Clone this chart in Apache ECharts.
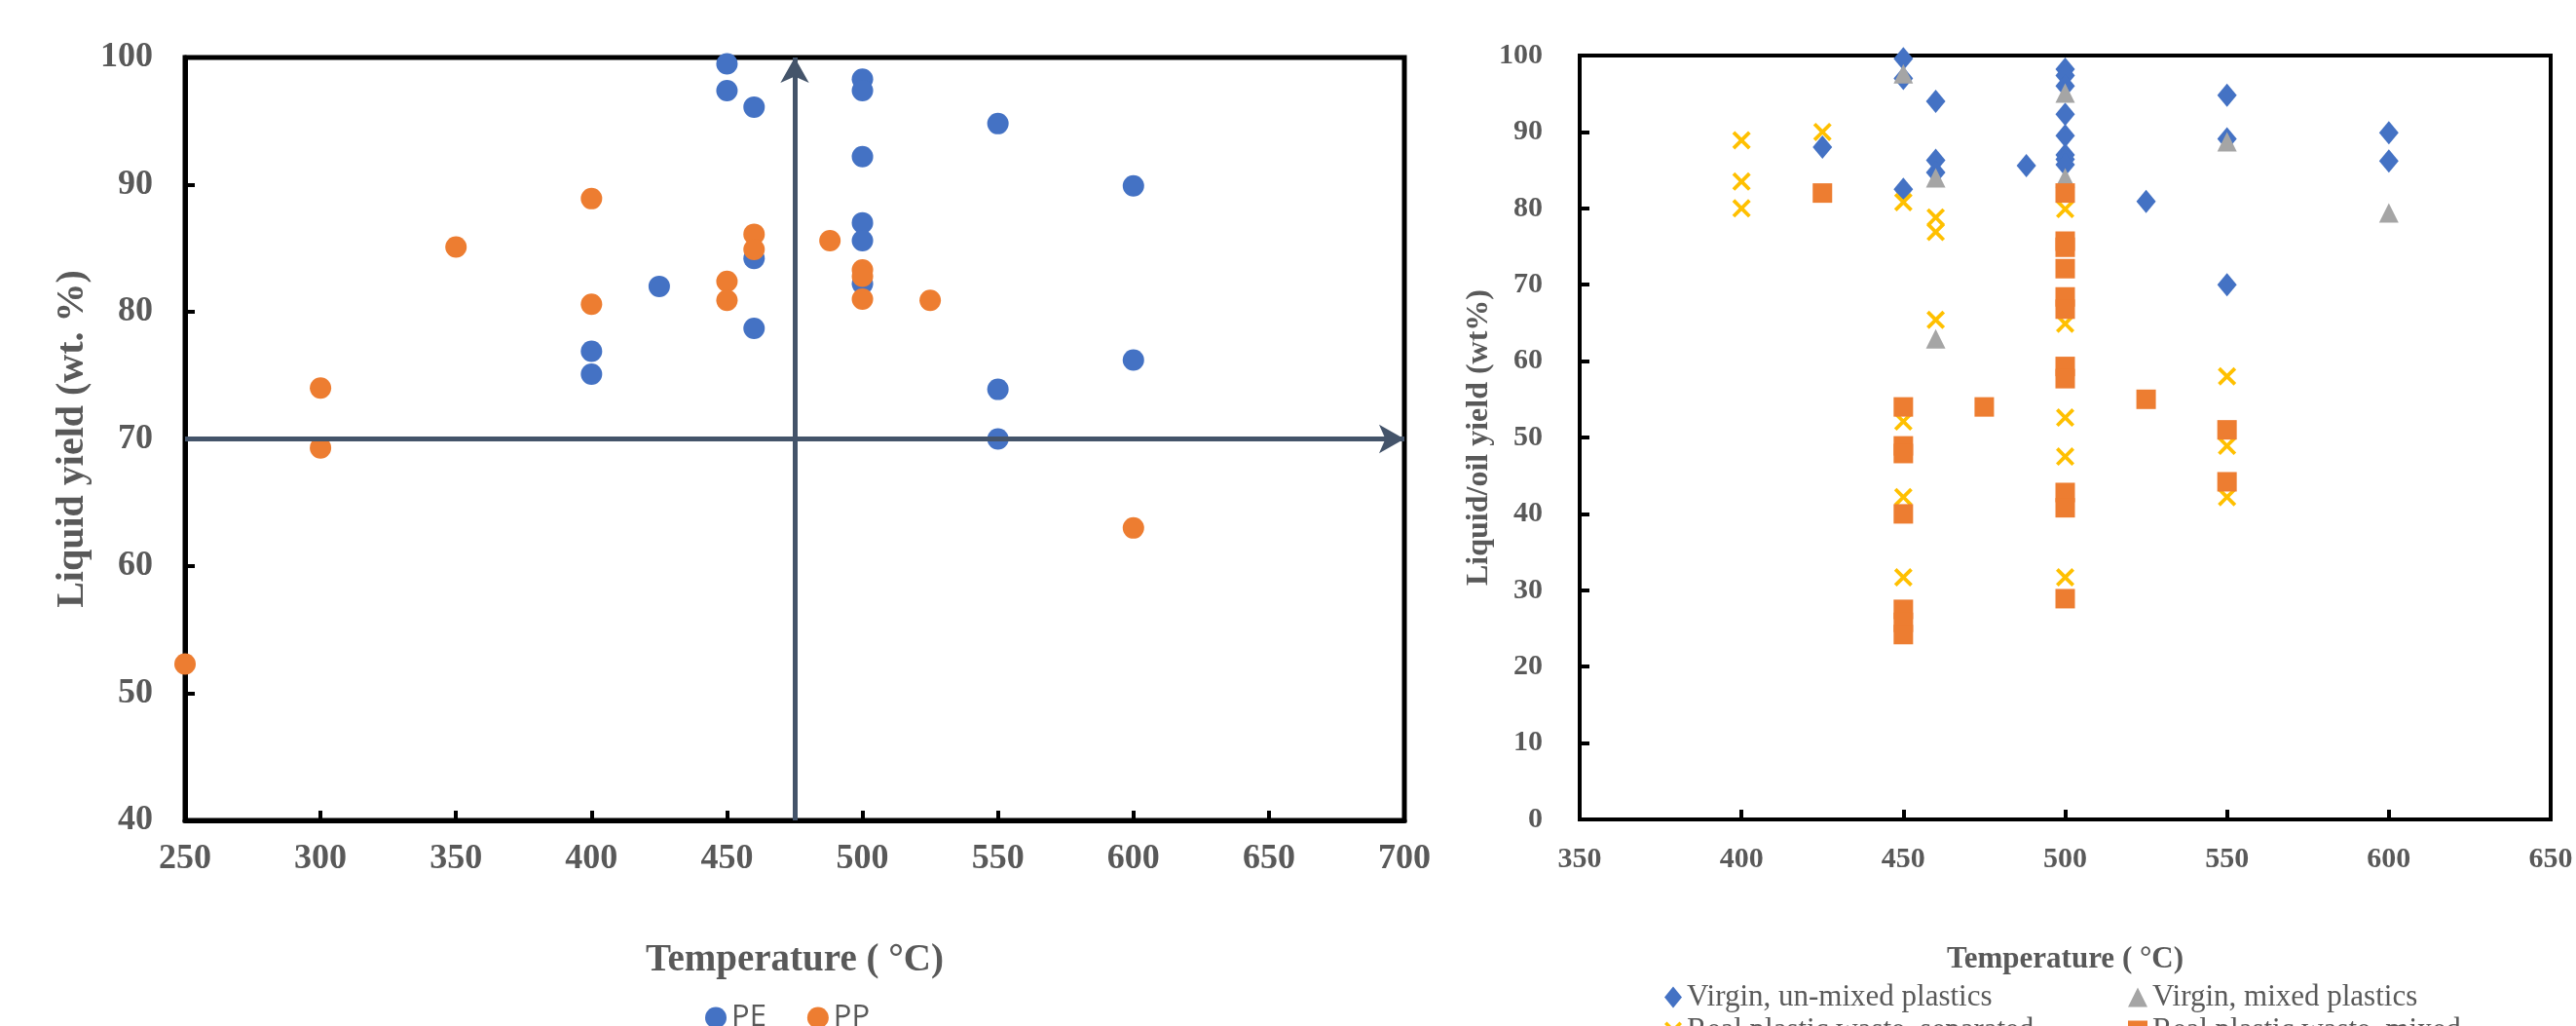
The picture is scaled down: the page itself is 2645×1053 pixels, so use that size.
<!DOCTYPE html>
<html><head><meta charset="utf-8">
<script src="https://cdn.jsdelivr.net/npm/echarts@6/dist/echarts.min.js"></script>
<style>html,body{margin:0;padding:0;background:#fff}#c{width:2645px;height:1053px}</style>
</head><body><div id="c"></div><script>
// ---------- Left chart: PE / PP ----------
const peTemp  = [400, 400, 425, 450, 450, 460, 460, 460, 500, 500, 500, 500, 500, 500, 550, 550, 550, 600, 600];
const peYield = [76.9, 75.1, 82.0, 99.5, 97.4, 96.1, 84.2, 78.7, 98.3, 97.4, 92.2, 87.0, 85.6, 82.2, 94.8, 73.9, 70.0, 89.9, 76.2];
const ppTemp  = [250, 300, 300, 350, 400, 400, 450, 450, 460, 460, 488, 500, 500, 500, 525, 600];
const ppYield = [52.3, 74.0, 69.3, 85.1, 88.9, 80.6, 82.4, 80.9, 86.1, 84.9, 85.6, 83.3, 82.8, 81.0, 80.9, 63.0];
const refTemp = 475;   // vertical reference arrow
const refYield = 70;   // horizontal reference arrow

// ---------- Right chart: four feedstock groups ----------
const vuTemp  = [425, 450, 450, 450, 460, 460, 460, 488, 500, 500, 500, 500, 500, 500, 500, 500, 525, 550, 550, 550, 600, 600];
const vuYield = [88.0, 99.6, 97.0, 82.5, 94.0, 86.3, 84.7, 85.6, 98.2, 97.4, 96.0, 92.3, 89.5, 87.0, 86.4, 85.7, 80.9, 94.8, 89.1, 70.0, 89.9, 86.2];
const vmTemp  = [450, 460, 460, 500, 500, 550, 600];
const vmYield = [97.6, 84.0, 62.9, 95.1, 84.0, 88.7, 79.4];
const rsTemp  = [400, 400, 400, 425, 450, 450, 450, 450, 460, 460, 460, 500, 500, 500, 500, 500, 550, 550, 550];
const rsYield = [88.9, 83.5, 80.0, 90.0, 80.8, 52.1, 42.2, 31.7, 78.8, 76.9, 65.4, 79.9, 64.9, 52.6, 47.5, 31.7, 58.0, 48.9, 42.2];
const rmTemp  = [425, 450, 450, 450, 450, 450, 450, 450, 475, 500, 500, 500, 500, 500, 500, 500, 500, 500, 500, 500, 525, 550, 550];
const rmYield = [82.0, 54.0, 48.9, 47.9, 40.0, 27.5, 25.8, 24.2, 54.0, 82.0, 75.7, 74.9, 72.1, 68.4, 66.8, 59.3, 57.7, 42.8, 40.8, 28.9, 55.0, 51.0, 44.2];

const zip = (xs, ys) => xs.map((x, i) => [x, ys[i]]);

const GRAY = '#595959';
const SERIF = '"Liberation Serif", "Times New Roman", serif';
const XMARK = 'path://M0,1.4 L1.4,0 L5,3.6 L8.6,0 L10,1.4 L6.4,5 L10,8.6 L8.6,10 L5,6.4 L1.4,10 L0,8.6 L3.6,5 Z';

function xAxisCfg(grid, min, max, fs, margin, nameGap, nameFs, lw) {
  return {
    type: 'value', gridIndex: grid, min: min, max: max, interval: 50,
    name: 'Temperature ( °C)', nameLocation: 'middle', nameGap: nameGap,
    nameTextStyle: { fontFamily: SERIF, fontWeight: 'bold', fontSize: nameFs, color: GRAY },
    axisLine: { show: true, onZero: false, lineStyle: { color: '#000', width: lw } },
    axisTick: { show: true, inside: true, length: 10, lineStyle: { color: '#000', width: 4 } },
    axisLabel: { margin: margin, fontFamily: SERIF, fontWeight: 'bold', fontSize: fs, color: GRAY },
    splitLine: { show: false }
  };
}
function yAxisCfg(grid, min, max, name, fs, margin, nameGap, nameFs, lw) {
  return {
    type: 'value', gridIndex: grid, min: min, max: max, interval: 10,
    name: name, nameLocation: 'middle', nameGap: nameGap, nameRotate: 90,
    nameTextStyle: { fontFamily: SERIF, fontWeight: 'bold', fontSize: nameFs, color: GRAY },
    axisLine: { show: true, onZero: false, lineStyle: { color: '#000', width: lw } },
    axisTick: { show: true, inside: true, length: 10, lineStyle: { color: '#000', width: 4 } },
    axisLabel: { margin: margin, fontFamily: SERIF, fontWeight: 'bold', fontSize: fs, color: GRAY },
    splitLine: { show: false }
  };
}

const option = {
  animation: false,
  backgroundColor: '#fff',
  grid: [
    { left: 190, top: 59, width: 1252, height: 783, show: true, borderColor: '#000', borderWidth: 5, backgroundColor: 'transparent' },
    { left: 1622, top: 57, width: 997, height: 784, show: true, borderColor: '#000', borderWidth: 4, backgroundColor: 'transparent' }
  ],
  xAxis: [
    xAxisCfg(0, 250, 700, 36, 22, 124, 39, 5),
    xAxisCfg(1, 350, 650, 30, 26, 128, 31, 4)
  ],
  yAxis: [
    yAxisCfg(0, 40, 100, 'Liquid yield (wt. %)', 36, 33, 95, 40, 5),
    yAxisCfg(1, 0, 100, 'Liquid/oil yield (wt%)', 30, 38, 76, 32, 4)
  ],
  legend: [
    { left: 719, top: 1024, itemWidth: 22, itemHeight: 22, itemGap: 42, icon: 'circle',
      textStyle: { fontFamily: '"Open Sans", "Noto Sans", sans-serif', fontSize: 31, color: GRAY },
      data: ['PE', 'PP'] },
    { left: 1704, top: 1003, itemWidth: 18, itemHeight: 22, itemGap: 4,
      textStyle: { fontFamily: SERIF, fontSize: 31, color: GRAY },
      data: [{ name: 'Virgin, un-mixed plastics', icon: 'diamond' }] },
    { left: 2180, top: 1003, itemWidth: 20, itemHeight: 20, itemGap: 4,
      textStyle: { fontFamily: SERIF, fontSize: 31, color: GRAY },
      data: [{ name: 'Virgin, mixed plastics', icon: 'triangle' }] },
    { left: 1704, top: 1037, itemWidth: 18, itemHeight: 18, itemGap: 4,
      textStyle: { fontFamily: SERIF, fontSize: 31, color: GRAY },
      data: [{ name: 'Real plastic waste, separated', icon: XMARK }] },
    { left: 2180, top: 1037, itemWidth: 20, itemHeight: 20, itemGap: 4,
      textStyle: { fontFamily: SERIF, fontSize: 31, color: GRAY },
      data: [{ name: 'Real plastic waste, mixed', icon: 'rect' }] }
  ],
  series: [
    { name: 'ref', type: 'line', xAxisIndex: 0, yAxisIndex: 0, data: [], z: 1,
      markLine: {
        silent: true, symbol: ['none', 'arrow'], symbolSize: [22, 26],
        label: { show: false },
        lineStyle: { color: '#44546A', width: 5, type: 'solid' },
        data: [
          [{ coord: [250, refYield] }, { coord: [700, refYield] }],
          [{ coord: [refTemp, 40] }, { coord: [refTemp, 100] }]
        ]
      } },
    { name: 'PE', type: 'scatter', xAxisIndex: 0, yAxisIndex: 0, symbol: 'circle', symbolSize: 22,
      itemStyle: { color: '#4472C4', opacity: 1 }, z: 3, data: zip(peTemp, peYield) },
    { name: 'PP', type: 'scatter', xAxisIndex: 0, yAxisIndex: 0, symbol: 'circle', symbolSize: 22,
      itemStyle: { color: '#ED7D31', opacity: 1 }, z: 4, data: zip(ppTemp, ppYield) },

    { name: 'Virgin, un-mixed plastics', type: 'scatter', xAxisIndex: 1, yAxisIndex: 1, symbol: 'diamond', symbolSize: [20, 24],
      itemStyle: { color: '#4472C4', opacity: 1 }, z: 3, data: zip(vuTemp, vuYield) },
    { name: 'Virgin, mixed plastics', type: 'scatter', xAxisIndex: 1, yAxisIndex: 1, symbol: 'triangle', symbolSize: 20,
      itemStyle: { color: '#A5A5A5', opacity: 1 }, z: 4, data: zip(vmTemp, vmYield) },
    { name: 'Real plastic waste, separated', type: 'scatter', xAxisIndex: 1, yAxisIndex: 1, symbol: XMARK, symbolSize: 19,
      itemStyle: { color: '#FFC000', opacity: 1 }, z: 5, data: zip(rsTemp, rsYield) },
    { name: 'Real plastic waste, mixed', type: 'scatter', xAxisIndex: 1, yAxisIndex: 1, symbol: 'rect', symbolSize: 20,
      itemStyle: { color: '#ED7D31', opacity: 1 }, z: 6, data: zip(rmTemp, rmYield) }
  ]
};

const chart = echarts.init(document.getElementById('c'), null, { renderer: 'canvas' });
chart.setOption(option);
</script></body></html>
